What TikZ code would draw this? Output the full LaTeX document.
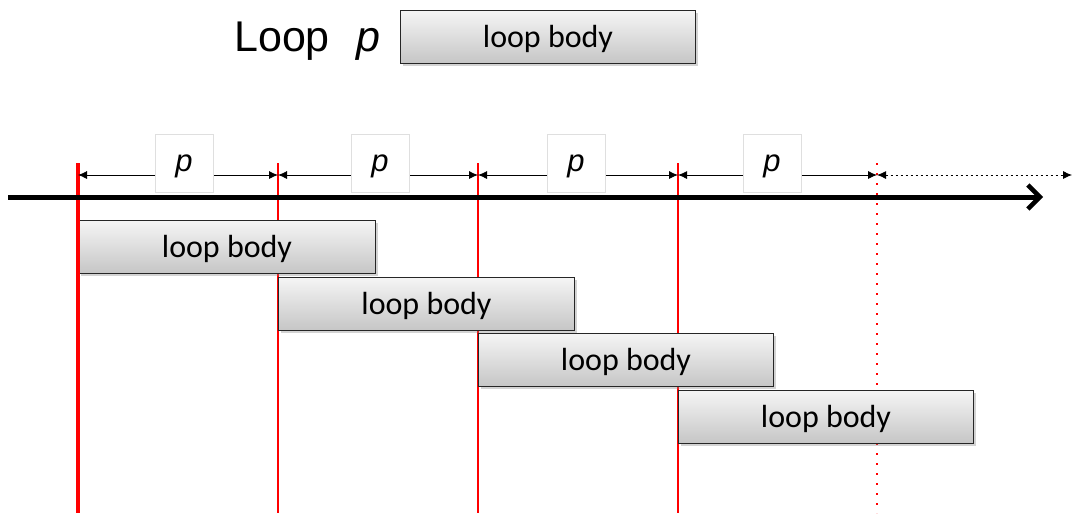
\documentclass[tikz,border=0pt]{standalone}
\usepackage{fontspec}
\setmainfont{Carlito}
\newfontfamily\arialf{Liberation Sans}
\usetikzlibrary{arrows.meta,shadows}
\begin{document}
\begin{tikzpicture}[x=1pt,y=-1pt,
  bodybox/.style={draw=black!85, line width=1pt, top color=gray!8, bottom color=gray!45,
    minimum height=53pt, anchor=north west, font=\fontsize{32}{34}\selectfont,
    text height=28pt, text depth=6.5pt,
    drop shadow={shadow xshift=2pt, shadow yshift=-2pt, opacity=0.35, fill=gray}},
  plabel/.style={draw=gray!25, fill=white, minimum width=58pt, minimum height=58pt,
    text height=24pt, text depth=6.5pt,
    font=\arialf\itshape\fontsize{31}{33}\selectfont},
  redline/.style={draw=red, line width=2pt},
  dim/.style={draw=black, line width=0.8pt, {Latex[length=9pt,width=8pt]}-{Latex[length=9pt,width=8pt]}}
]
\useasboundingbox (0,0) rectangle (1073,515);
% title
\node[anchor=base west, font=\arialf\fontsize{43}{45}\selectfont, inner sep=0pt] (loopw) at (234,51) {Loop};
\node[anchor=base west, font=\arialf\itshape\fontsize{43}{45}\selectfont, inner sep=0pt] (loopp) at (356,51) {p};
\node[bodybox, minimum width=295pt] (topbox) at (400,10) {loop body};

% red lines (behind boxes)
\coordinate (r1t) at (78,163); \coordinate (r1b) at (78,513);
\coordinate (r2t) at (278,163); \coordinate (r2b) at (278,513);
\coordinate (r3t) at (478,163); \coordinate (r3b) at (478,513);
\coordinate (r4t) at (678,163); \coordinate (r4b) at (678,513);
\coordinate (r5t) at (877,163); \coordinate (r5b) at (877,513);
\draw[redline, line width=4pt] (r1t) -- (r1b);
\draw[redline] (r2t) -- (r2b);
\draw[redline] (r3t) -- (r3b);
\draw[redline] (r4t) -- (r4b);
\draw[redline, dash pattern=on 2pt off 8pt] (r5t) -- (r5b);

% dimension arrows
\coordinate (d1) at (78,175); \coordinate (d2) at (278,175); \coordinate (d3) at (478,175);
\coordinate (d4) at (678,175); \coordinate (d5) at (877,175); \coordinate (d6) at (1072,175);
\draw[dim] (d1) -- (d2);
\draw[dim] (d2) -- (d3);
\draw[dim] (d3) -- (d4);
\draw[dim] (d4) -- (d5);
\draw[draw=black, line width=0.8pt, dash pattern=on 2pt off 3pt, {Latex[length=9pt,width=8pt]}-{Latex[length=9pt,width=8pt]}] (d5) -- (d6);

\node[plabel] (p1) at (184,163) {p};
\node[plabel] (p2) at (380,163) {p};
\node[plabel] (p3) at (576,163) {p};
\node[plabel] (p4) at (772,163) {p};

% axis
\coordinate (a0) at (8,197); \coordinate (a1) at (1043,197);
\draw[line width=5pt, -{Straight Barb[length=12pt,width=24pt,line width=4.5pt]}] (a0) -- (a1);

% loop bodies
\node[bodybox, minimum width=297pt] (b1) at (78,220) {loop body};
\node[bodybox, minimum width=296pt] (b2) at (278,277) {loop body};
\node[bodybox, minimum width=295pt] (b3) at (478,333) {loop body};
\node[bodybox, minimum width=295pt] (b4) at (678,390) {loop body};
% left edge of first red line stays visible beside box 1
\draw[redline, line width=4pt] (b1.north west) -- (b1.south west);
\end{tikzpicture}
\end{document}
